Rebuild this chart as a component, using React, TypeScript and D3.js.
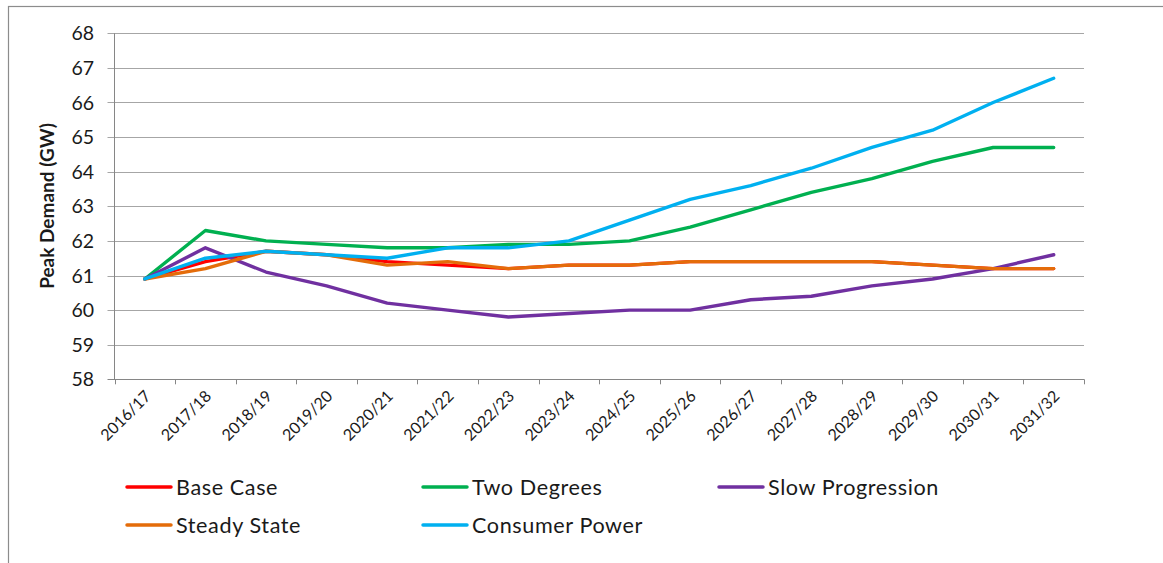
import React, { useEffect } from "react";
import * as d3 from "d3";

const categories = ["2016/17","2017/18","2018/19","2019/20","2020/21","2021/22","2022/23","2023/24","2024/25","2025/26","2026/27","2027/28","2028/29","2029/30","2030/31","2031/32"];
const baseCase = [60.9,61.4,61.7,61.6,61.4,61.3,61.2,61.3,61.3,61.4,61.4,61.4,61.4,61.3,61.2,61.2];
const twoDegrees = [60.9,62.3,62.0,61.9,61.8,61.8,61.9,61.9,62.0,62.4,62.9,63.4,63.8,64.3,64.7,64.7];
const slowProgression = [60.9,61.8,61.1,60.7,60.2,60.0,59.8,59.9,60.0,60.0,60.3,60.4,60.7,60.9,61.2,61.6];
const steadyState = [60.9,61.2,61.7,61.6,61.3,61.4,61.2,61.3,61.3,61.4,61.4,61.4,61.4,61.3,61.2,61.2];
const consumerPower = [60.9,61.5,61.7,61.6,61.5,61.8,61.8,62.0,62.6,63.2,63.6,64.1,64.7,65.2,66.0,66.7];
const yTicks = [58,59,60,61,62,63,64,65,66,67,68];

const seriesNames = ["Base Case","Two Degrees","Slow Progression","Steady State","Consumer Power"];
const seriesColors = ["#FF0000","#00B050","#7030A0","#E46C0A","#00B0F0"];
const seriesValues = [baseCase, twoDegrees, slowProgression, steadyState, consumerPower];

const W = 1163, H = 563;
const left = 114.5, right = 1084, top = 33.3, bottom = 379.3;
const FONT = "Lato, 'Open Sans', sans-serif";

export default function App() {
  useEffect(() => { document.body.style.margin = "0"; }, []);
  const x = d3.scaleBand<string>().domain(categories).range([left, right]).paddingInner(0).paddingOuter(0);
  const y = d3.scaleLinear().domain([58, 68]).range([bottom, top]);
  const cx = (c: string) => (x(c) as number) + x.bandwidth() / 2;
  const line = d3.line<number>().x((_, i) => cx(categories[i])).y(v => y(v));
  const tickXs = categories.map(c => x(c) as number).concat([right]);

  const legendItems = [
    { i: 0, lx: 127, ly: 487 },
    { i: 1, lx: 423, ly: 487 },
    { i: 2, lx: 719, ly: 487 },
    { i: 3, lx: 127, ly: 525 },
    { i: 4, lx: 423, ly: 525 },
  ];

  return (
    <svg width={W} height={H} style={{ display: "block", background: "#fff" }} fontFamily={FONT}>
      <rect x={8.5} y={6.5} width={1200} height={600} fill="#fff" stroke="#8c8c8c" strokeWidth={1.2} />
      {yTicks.map(t => (
        <g key={t}>
          <line x1={left - 7} x2={right} y1={Math.round(y(t)) + 0.5} y2={Math.round(y(t)) + 0.5} stroke={t === 58 ? "#868686" : "#a6a6a6"} strokeWidth={1} />
          <text x={94} y={y(t)} dy="0.36em" textAnchor="end" fontSize={19.5} fill="#1a1a1a">{t}</text>
        </g>
      ))}
      <line x1={left} x2={left} y1={top} y2={bottom} stroke="#868686" strokeWidth={1} />
      {tickXs.map((tx, i) => (
        <line key={i} x1={Math.round(tx) + 0.5} x2={Math.round(tx) + 0.5} y1={bottom} y2={bottom + 5} stroke="#868686" />
      ))}
      {categories.map(c => (
        <text key={c} transform={`translate(${cx(c) + 3},${bottom + 14}) rotate(-45)`} textAnchor="end" fontSize={16} dy="0.35em" fill="#1a1a1a">{c}</text>
      ))}
      <text transform={`translate(54,206) rotate(-90)`} textAnchor="middle" fontSize={19} fontWeight="bold" fill="#1a1a1a">Peak Demand (GW)</text>
      {seriesValues.map((vals, i) => (
        <path key={i} d={line(vals) as string} fill="none" stroke={seriesColors[i]} strokeWidth={3.4} strokeLinejoin="round" strokeLinecap="round" />
      ))}
      {legendItems.map(({ i, lx, ly }) => (
        <g key={i}>
          <line x1={lx} x2={lx + 44} y1={ly} y2={ly} stroke={seriesColors[i]} strokeWidth={3.5} strokeLinecap="round" />
          <text x={lx + 49} y={ly} dy="0.36em" fontSize={21.6} letterSpacing={0.6} fill="#1a1a1a">{seriesNames[i]}</text>
        </g>
      ))}
    </svg>
  );
}
